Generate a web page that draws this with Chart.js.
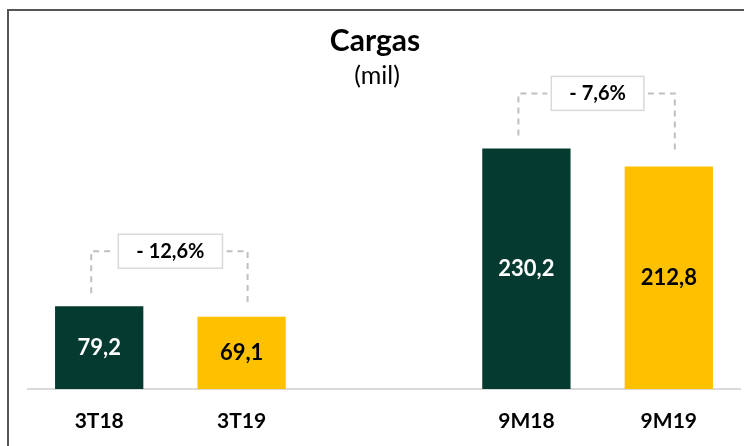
<!DOCTYPE html>
<html>
<head>
<meta charset="utf-8">
<script src="https://cdn.jsdelivr.net/npm/chart.js@4"></script>
<style>
  body { margin: 0; background: #fff; }
  #wrap { position: relative; width: 744px; height: 446px; }
</style>
</head>
<body>
<div id="wrap"><canvas id="chart" width="744" height="446"></canvas></div>
<script>
const categories = ["3T18", "3T19", "", "9M18", "9M19"];
const values = [79.2, 69.1, null, 230.2, 212.8];
const barColors = ["#053a30", "#ffc000", "#ffc000", "#053a30", "#ffc000"];
const labelColors = ["#ffffff", "#000000", "#000000", "#ffffff", "#000000"];
const valueLabels = ["79,2", "69,1", "", "230,2", "212,8"];
// [from bar, to bar, text]
const changes = [[0, 1, "- 12,6%"], [3, 4, "- 7,6%"]];

const FONT = "Lato, 'Noto Sans', sans-serif";

const frame = {
  id: "frame",
  beforeDraw(chart) {
    const ctx = chart.ctx;
    ctx.save();
    ctx.fillStyle = "#fff";
    ctx.fillRect(0, 0, chart.width, chart.height);
    ctx.strokeStyle = "#555555";
    ctx.lineWidth = 2;
    ctx.beginPath();
    ctx.moveTo(8, chart.height);
    ctx.lineTo(8, 10);
    ctx.lineTo(chart.width, 10);
    ctx.stroke();

    ctx.fillStyle = "#000";
    ctx.textAlign = "center";
    ctx.textBaseline = "middle";
    ctx.font = "bold 30px " + FONT;
    ctx.fillText("Cargas", 375, 41);
    ctx.font = "25px " + FONT;
    ctx.fillText("(mil)", 377, 76);
    ctx.restore();
  }
};

const barLabels = {
  id: "barLabels",
  afterDatasetsDraw(chart) {
    const ctx = chart.ctx;
    const bars = chart.getDatasetMeta(0).data;
    ctx.save();
    ctx.textAlign = "center";
    ctx.textBaseline = "middle";
    ctx.font = "bold 22px " + FONT;
    bars.forEach((bar, i) => {
      if (values[i] == null) return;
      ctx.fillStyle = labelColors[i];
      ctx.fillText(valueLabels[i], bar.x, (bar.y + bar.base) / 2);
    });

    changes.forEach(([a, b, text]) => {
      const left = bars[a], right = bars[b];
      const xl = left.x - 8;
      const xr = right.x + 6;
      const top = Math.min(left.y, right.y) - 55;
      ctx.font = "bold 20px " + FONT;
      const boxW = ctx.measureText(text).width + 36;
      const boxH = 34;
      const cx = (xl + xr) / 2 + 1;

      ctx.strokeStyle = "#bfbfbf";
      ctx.lineWidth = 2;
      ctx.setLineDash([6, 5]);
      ctx.beginPath();
      ctx.moveTo(xl, left.y - 13);
      ctx.lineTo(xl, top);
      ctx.lineTo(cx - boxW / 2 - 4, top);
      ctx.moveTo(cx + boxW / 2 + 4, top);
      ctx.lineTo(xr, top);
      ctx.lineTo(xr, right.y - 13);
      ctx.stroke();
      ctx.setLineDash([]);

      ctx.fillStyle = "#fff";
      ctx.fillRect(cx - boxW / 2, top - boxH / 2, boxW, boxH);
      ctx.strokeStyle = "#d9d9d9";
      ctx.lineWidth = 1.5;
      ctx.strokeRect(cx - boxW / 2, top - boxH / 2, boxW, boxH);
      ctx.fillStyle = "#000";
      ctx.fillText(text, cx, top);
    });
    ctx.restore();
  }
};

new Chart(document.getElementById("chart"), {
  type: "bar",
  data: {
    labels: categories,
    datasets: [{
      data: values,
      backgroundColor: barColors,
      barPercentage: 0.62,
      categoryPercentage: 1.0
    }]
  },
  options: {
    responsive: false,
    animation: false,
    layout: { padding: { left: 28, right: 4, top: 100, bottom: 0 } },
    plugins: {
      legend: { display: false },
      tooltip: { enabled: false }
    },
    scales: {
      x: {
        grid: { display: false, drawTicks: false },
        border: { display: true, color: "#d9d9d9", width: 2 },
        ticks: {
          color: "#000",
          font: { family: FONT, size: 21, weight: "bold" },
          padding: 20,
          maxRotation: 0
        },
        afterFit(scale) { scale.height = 57; }
      },
      y: {
        display: false,
        min: 0,
        max: 276.5
      }
    }
  },
  plugins: [frame, barLabels]
});
</script>
</body>
</html>
